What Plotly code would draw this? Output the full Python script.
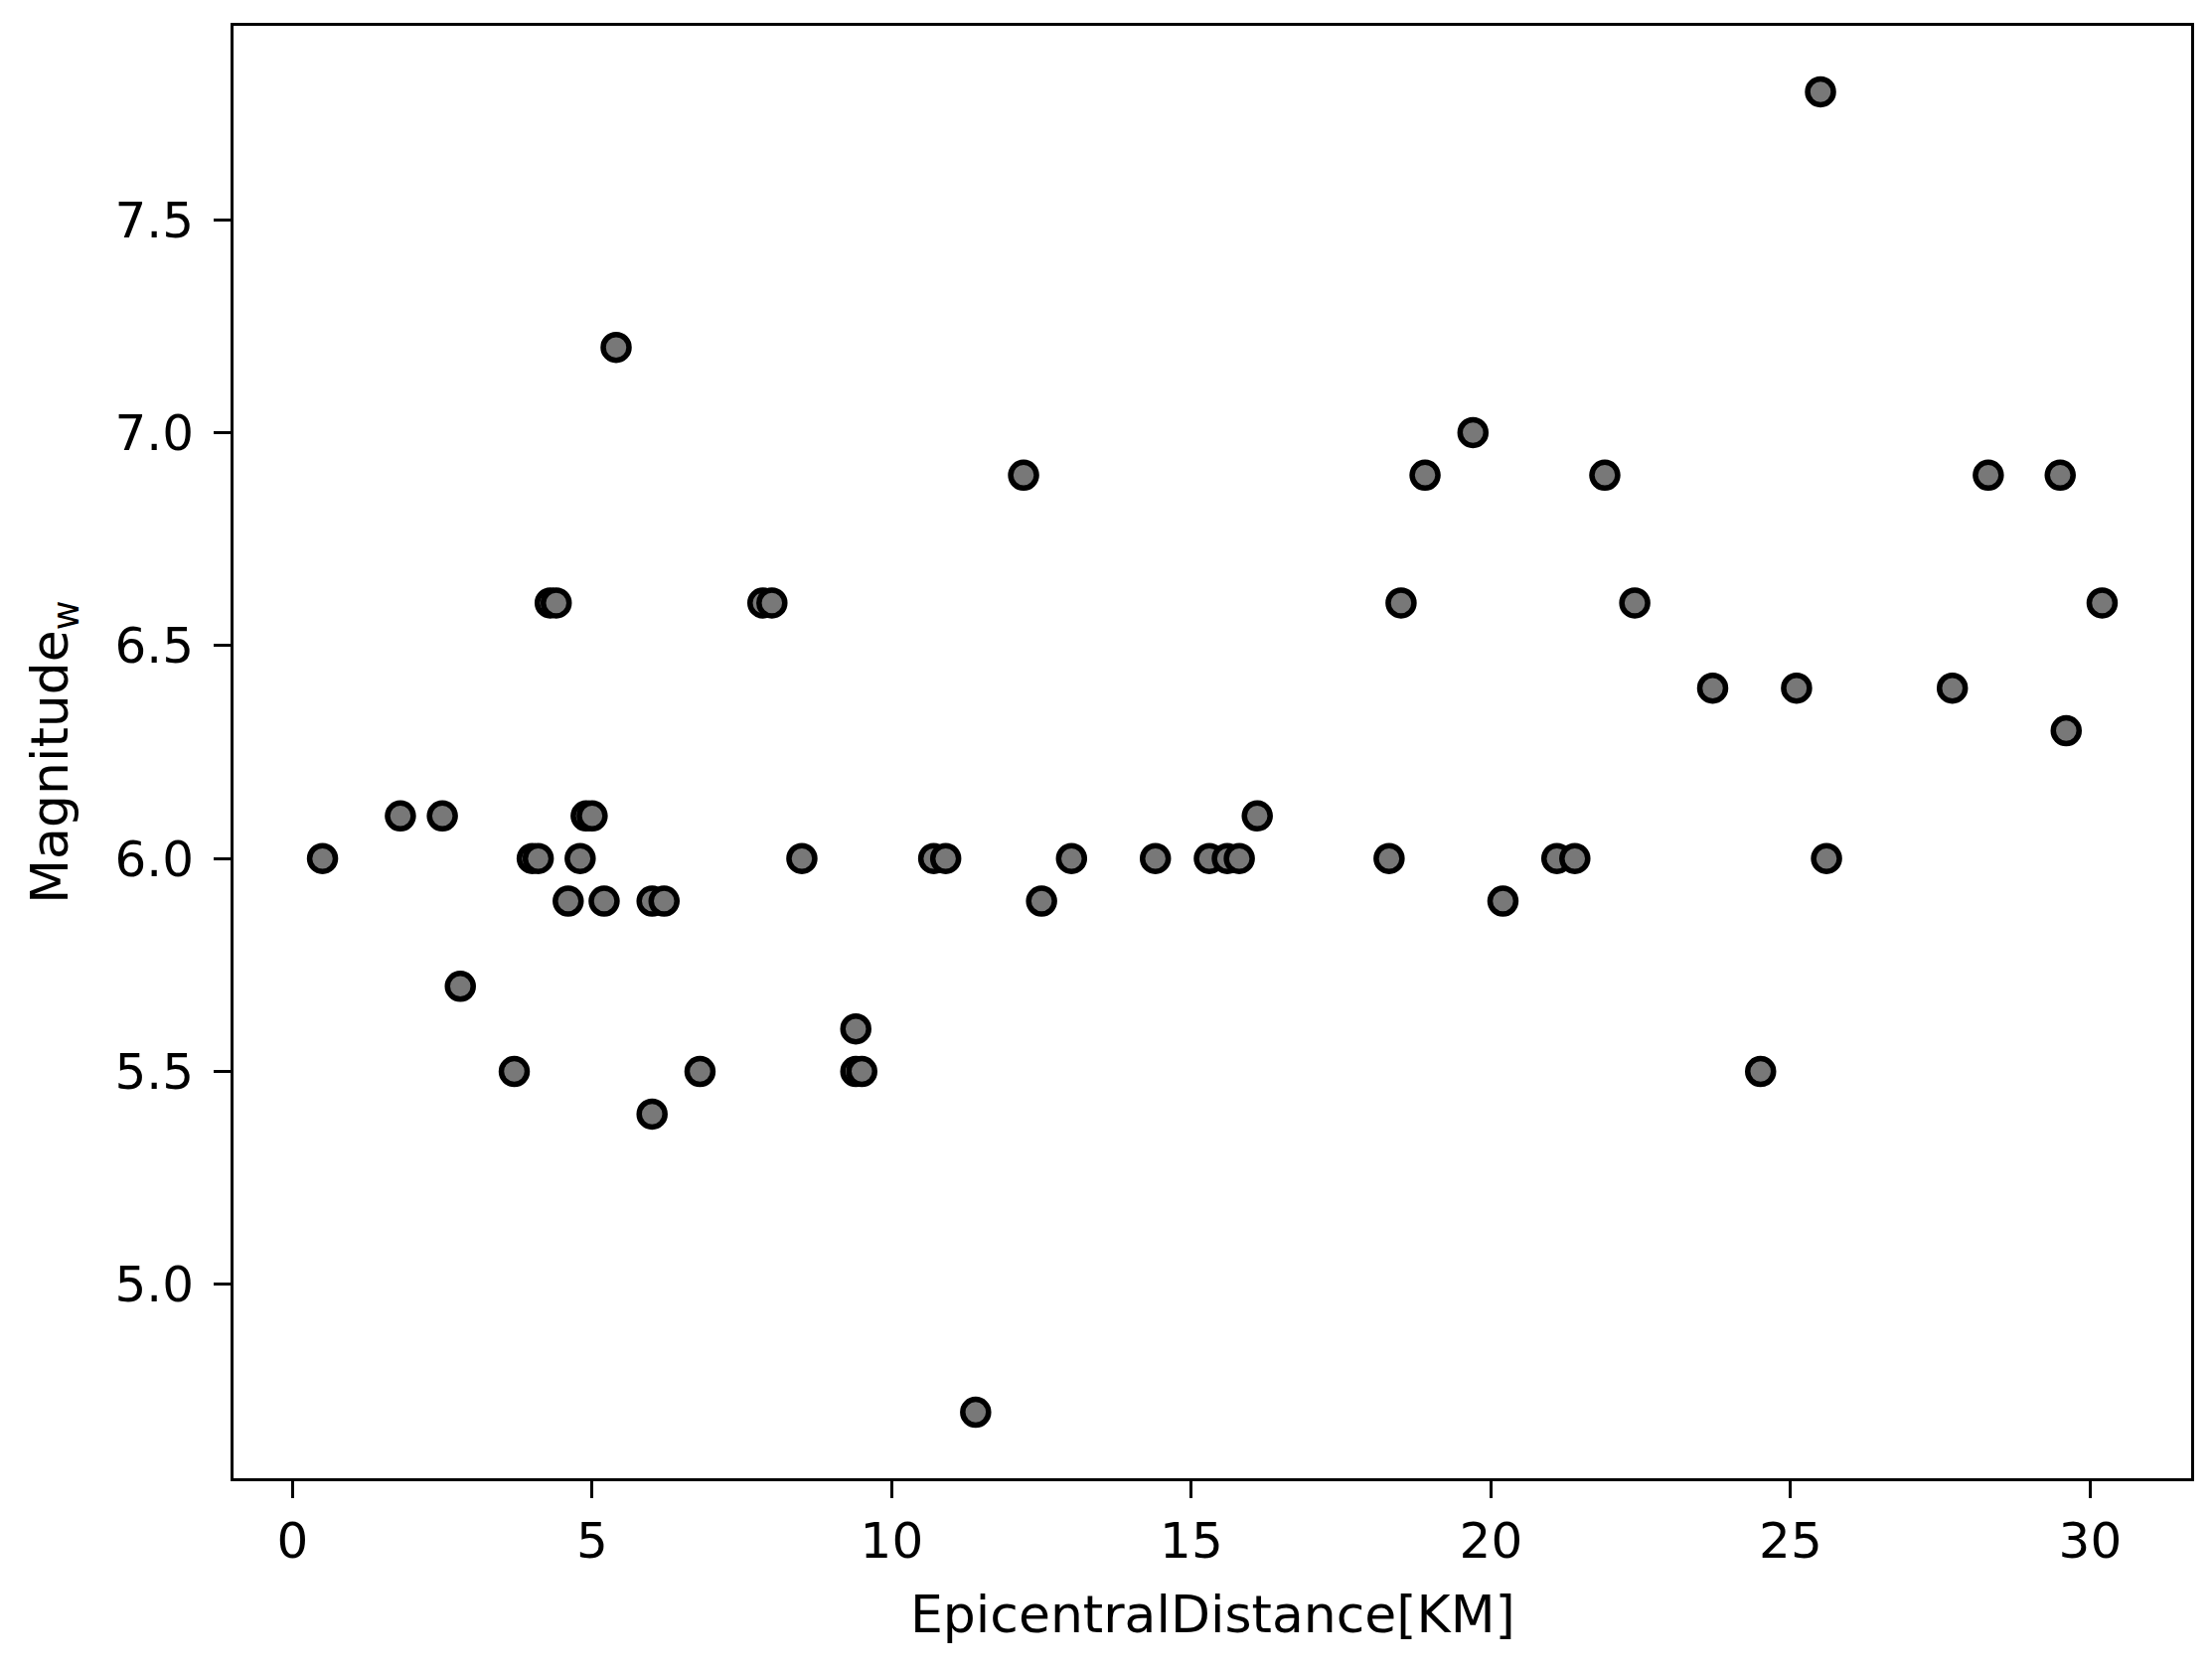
import plotly.graph_objects as go

distance_km = [0.5, 1.8, 2.5, 2.8, 3.7, 4.0, 4.1, 4.3, 4.4, 4.6, 4.8, 4.9, 5.0, 5.2, 5.4,
               6.0, 6.2, 6.0, 6.8, 7.85, 8.0, 8.5, 9.4, 9.4, 9.5, 10.7, 10.9, 11.4, 12.2,
               12.5, 13.0, 14.4, 15.3, 15.6, 15.8, 16.1, 18.3, 18.5, 18.9, 19.7, 20.2,
               21.1, 21.4, 21.9, 22.4, 23.7, 24.5, 25.1, 25.5, 25.6, 27.7, 28.3, 29.5,
               29.6, 30.2]
magnitude_w = [6.0, 6.1, 6.1, 5.7, 5.5, 6.0, 6.0, 6.6, 6.6, 5.9, 6.0, 6.1, 6.1, 5.9, 7.2,
               5.9, 5.9, 5.4, 5.5, 6.6, 6.6, 6.0, 5.6, 5.5, 5.5, 6.0, 6.0, 4.7, 6.9,
               5.9, 6.0, 6.0, 6.0, 6.0, 6.0, 6.1, 6.0, 6.6, 6.9, 7.0, 5.9,
               6.0, 6.0, 6.9, 6.6, 6.4, 5.5, 6.4, 7.8, 6.0, 6.4, 6.9, 6.9,
               6.3, 6.6]

x_ticks = [0, 5, 10, 15, 20, 25, 30]
y_ticks = [5.0, 5.5, 6.0, 6.5, 7.0, 7.5]
y_tick_text = ["5.0", "5.5", "6.0", "6.5", "7.0", "7.5"]

FONT = "DejaVu Sans"

fig = go.Figure(
    go.Scatter(
        x=distance_km, y=magnitude_w, mode="markers",
        marker=dict(size=26, color="#787878", line=dict(color="black", width=5.5)),
        showlegend=False,
    )
)

axis_common = dict(
    showline=True, linecolor="black", linewidth=3, mirror=True,
    ticks="outside", ticklen=17, tickwidth=3, tickcolor="black",
    showgrid=False, zeroline=False,
    tickfont=dict(family=FONT, size=50, color="black"),
)

fig.update_xaxes(range=[-0.985, 31.685], tickvals=x_ticks, ticklabelstandoff=0, **axis_common)
fig.update_yaxes(range=[4.545, 7.955], tickvals=y_ticks, ticktext=y_tick_text,
                 ticklabelstandoff=10, **axis_common)

fig.add_annotation(text="EpicentralDistance[KM]", xref="paper", yref="paper",
                   x=0.5, y=-0.094, yanchor="middle", xanchor="center", showarrow=False,
                   font=dict(family=FONT, size=52, color="black"))
fig.add_annotation(text="Magnitude<sub>w</sub>", xref="paper", yref="paper",
                   x=-0.092, y=0.5, xanchor="center", yanchor="middle", textangle=-90,
                   showarrow=False, font=dict(family=FONT, size=52, color="black"))

# the page body has an 8px default margin; margins compensate so the plot area
# lands at x 235..2205, y 26..1488 in the window
fig.update_layout(
    width=2226, height=1680,
    margin=dict(l=227, r=29, t=18, b=200),
    paper_bgcolor="white", plot_bgcolor="white",
)

fig.write_html("out.html")
